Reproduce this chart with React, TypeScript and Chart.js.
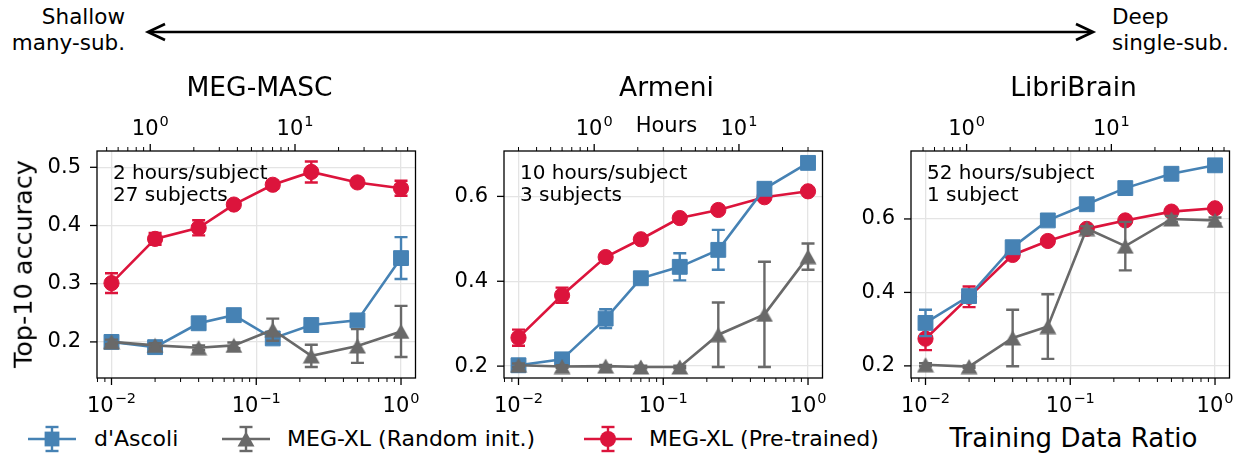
import React, { useEffect, useRef } from 'react';
import { Chart, registerables } from 'chart.js';

Chart.register(...registerables);

// ---------------- data ----------------
const RATIOS = [0.01, 0.02, 0.04, 0.07, 0.13, 0.24, 0.5, 1.0];

// MEG-MASC (2 hours/subject, 27 subjects)
const MASC_DASCOLI = [0.2, 0.191, 0.232, 0.246, 0.206, 0.229, 0.237, 0.344];
const MASC_DASCOLI_ERR = [0.006, 0.005, 0.006, 0.006, 0.008, 0.006, 0.007, 0.036];
const MASC_RANDOM = [0.2, 0.194, 0.19, 0.194, 0.221, 0.176, 0.193, 0.218];
const MASC_RANDOM_ERR = [0.004, 0.004, 0.004, 0.005, 0.019, 0.019, 0.029, 0.044];
const MASC_PRE = [0.301, 0.377, 0.396, 0.436, 0.47, 0.492, 0.474, 0.464];
const MASC_PRE_ERR = [0.017, 0.01, 0.013, 0.006, 0.007, 0.018, 0.006, 0.013];

// Armeni (10 hours/subject, 3 subjects)
const ARMENI_DASCOLI = [0.202, 0.216, 0.312, 0.407, 0.434, 0.474, 0.618, 0.679];
const ARMENI_DASCOLI_ERR = [0.005, 0.005, 0.022, 0.006, 0.032, 0.047, 0.008, 0.005];
const ARMENI_RANDOM = [0.202, 0.199, 0.2, 0.198, 0.198, 0.274, 0.322, 0.458];
const ARMENI_RANDOM_ERR = [0.004, 0.003, 0.003, 0.003, 0.003, 0.076, 0.124, 0.031];
const ARMENI_PRE = [0.267, 0.367, 0.457, 0.499, 0.549, 0.568, 0.598, 0.612];
const ARMENI_PRE_ERR = [0.019, 0.018, 0.006, 0.005, 0.005, 0.005, 0.005, 0.004];

// LibriBrain (52 hours/subject, 1 subject)
const LIBRI_DASCOLI = [0.317, 0.39, 0.523, 0.596, 0.64, 0.684, 0.723, 0.746];
const LIBRI_DASCOLI_ERR = [0.036, 0.01, 0.008, 0.006, 0.006, 0.006, 0.005, 0.005];
const LIBRI_RANDOM = [0.203, 0.198, 0.276, 0.307, 0.574, 0.526, 0.6, 0.596];
const LIBRI_RANDOM_ERR = [0.004, 0.003, 0.077, 0.088, 0.006, 0.066, 0.008, 0.008];
const LIBRI_PRE = [0.274, 0.388, 0.502, 0.54, 0.573, 0.596, 0.62, 0.629];
const LIBRI_PRE_ERR = [0.031, 0.028, 0.007, 0.006, 0.005, 0.005, 0.005, 0.005];

const TITLES = ['MEG-MASC', 'Armeni', 'LibriBrain'];
const NOTES = [
  ['2 hours/subject', '27 subjects'],
  ['10 hours/subject', '3 subjects'],
  ['52 hours/subject', '1 subject'],
];
const TOTAL_HOURS = [54, 30, 52];
const Y_MIN = [0.138, 0.172, 0.167];
const Y_MAX = [0.528, 0.707, 0.785];
const Y_TICKS = [
  [0.2, 0.3, 0.4, 0.5],
  [0.2, 0.4, 0.6],
  [0.2, 0.4, 0.6],
];
const X_MIN = 0.00794;
const X_MAX = 1.259;

const SERIES_LABELS = ["d'Ascoli", 'MEG-XL (Random init.)', 'MEG-XL (Pre-trained)'];

// ---------------- style ----------------
const BLUE = '#4682b4';
const GRAY = '#696969';
const RED = '#dc143c';
const FONT = '"DejaVu Sans", sans-serif';
const GRID = '#e4e4e4';

const PANEL_LEFT = [97, 504, 911];
const PLOT_W = 325;
const PLOT_TOP = 151;
const PLOT_BOTTOM = 378;
const AX_LEFT = 60;
const AX_TOP = 51;
const AX_BOTTOM = 42;
const CANVAS_TOP = PLOT_TOP - AX_TOP;
const CANVAS_W = AX_LEFT + PLOT_W + 5;
const CANVAS_H = AX_TOP + (PLOT_BOTTOM - PLOT_TOP) + AX_BOTTOM;
const CAP = 6.5;

function logTicks(min: number, max: number) {
  const out: { value: number; major: boolean }[] = [];
  for (let d = Math.floor(Math.log10(min)); d <= Math.ceil(Math.log10(max)); d++) {
    for (let k = 1; k <= 9; k++) {
      const v = k * Math.pow(10, d);
      if (v >= min && v <= max) out.push({ value: v, major: k === 1 });
    }
  }
  return out;
}

let triCanvas: HTMLCanvasElement | null = null;
function triangleMarker(color: string) {
  if (triCanvas) return triCanvas;
  const c = document.createElement('canvas');
  c.width = 18;
  c.height = 16;
  const g = c.getContext('2d')!;
  g.fillStyle = color;
  g.beginPath();
  g.moveTo(9, 0.5);
  g.lineTo(17.5, 15.5);
  g.lineTo(0.5, 15.5);
  g.closePath();
  g.fill();
  triCanvas = c;
  return c;
}

const errorBarPlugin = {
  id: 'errorBars',
  beforeDatasetDraw(chart: any, args: any) {
    const ds = chart.data.datasets[args.index];
    const errs: number[] | undefined = ds.errors;
    if (!errs) return;
    const xs = chart.scales.x;
    const ys = chart.scales.y;
    const ctx = chart.ctx;
    ctx.save();
    ctx.strokeStyle = ds.borderColor;
    ctx.lineWidth = 2.4;
    ds.data.forEach((pt: any, i: number) => {
      const px = xs.getPixelForValue(pt.x);
      const y1 = ys.getPixelForValue(pt.y - errs[i]);
      const y2 = ys.getPixelForValue(pt.y + errs[i]);
      ctx.beginPath();
      ctx.moveTo(px, y1);
      ctx.lineTo(px, y2);
      ctx.moveTo(px - CAP, y1);
      ctx.lineTo(px + CAP, y1);
      ctx.moveTo(px - CAP, y2);
      ctx.lineTo(px + CAP, y2);
      ctx.stroke();
    });
    ctx.restore();
  },
};

const framePlugin = {
  id: 'frame',
  afterDraw(chart: any) {
    const { ctx, chartArea: a } = chart;
    ctx.save();
    ctx.strokeStyle = '#000';
    const drawXTicks = (scale: any, dir: number, edge: number) => {
      scale.ticks.forEach((t: any) => {
        const px = scale.getPixelForValue(t.value);
        ctx.lineWidth = t.major ? 1.3 : 1;
        ctx.beginPath();
        ctx.moveTo(px, edge);
        ctx.lineTo(px, edge + dir * (t.major ? 7 : 4));
        ctx.stroke();
      });
    };
    drawXTicks(chart.scales.x, 1, a.bottom);
    drawXTicks(chart.scales.x2, -1, a.top);
    const yS = chart.scales.y;
    yS.ticks.forEach((t: any) => {
      const py = yS.getPixelForValue(t.value);
      ctx.lineWidth = 1.3;
      ctx.beginPath();
      ctx.moveTo(a.left, py);
      ctx.lineTo(a.left - 7, py);
      ctx.stroke();
    });
    ctx.lineWidth = 1.3;
    ctx.strokeRect(a.left, a.top, a.right - a.left, a.bottom - a.top);

    const drawPow = (scale: any, baseline: number) => {
      scale.ticks.forEach((t: any) => {
        if (!t.major) return;
        const e = Math.round(Math.log10(t.value));
        const expStr = e < 0 ? '\u2212' + -e : String(e);
        ctx.font = `21px ${FONT}`;
        const w1 = ctx.measureText('10').width;
        ctx.font = `14.5px ${FONT}`;
        const w2 = ctx.measureText(expStr).width;
        const px = scale.getPixelForValue(t.value);
        const x0 = px - (w1 + w2 + 1) / 2;
        ctx.fillStyle = '#000';
        ctx.textAlign = 'left';
        ctx.textBaseline = 'alphabetic';
        ctx.font = `21px ${FONT}`;
        ctx.fillText('10', x0, baseline);
        ctx.font = `14.5px ${FONT}`;
        ctx.fillText(expStr, x0 + w1 + 1, baseline - 8.5);
      });
    };
    drawPow(chart.scales.x, a.bottom + 33.5);
    drawPow(chart.scales.x2, a.top - 16.5);
    ctx.restore();
  },
};

const PANEL_SERIES = [
  [
    [MASC_DASCOLI, MASC_DASCOLI_ERR],
    [MASC_RANDOM, MASC_RANDOM_ERR],
    [MASC_PRE, MASC_PRE_ERR],
  ],
  [
    [ARMENI_DASCOLI, ARMENI_DASCOLI_ERR],
    [ARMENI_RANDOM, ARMENI_RANDOM_ERR],
    [ARMENI_PRE, ARMENI_PRE_ERR],
  ],
  [
    [LIBRI_DASCOLI, LIBRI_DASCOLI_ERR],
    [LIBRI_RANDOM, LIBRI_RANDOM_ERR],
    [LIBRI_PRE, LIBRI_PRE_ERR],
  ],
];

function Panel({ idx }: { idx: number }) {
  const ref = useRef<HTMLCanvasElement>(null);
  useEffect(() => {
    const series = PANEL_SERIES[idx];
    const colors = [BLUE, GRAY, RED];
    const orders = [2, 1, 3];
    const styles: any[] = ['rect', triangleMarker(GRAY), 'circle'];
    const radii = [10.5, 9, 7.6];
    const datasets = series.map(([vals, errs], s) => ({
      label: SERIES_LABELS[s],
      data: RATIOS.map((x, i) => ({ x, y: vals[i] })),
      errors: errs,
      borderColor: colors[s],
      backgroundColor: colors[s],
      pointBackgroundColor: colors[s],
      pointBorderColor: colors[s],
      pointBorderWidth: 1,
      pointStyle: styles[s],
      pointRadius: radii[s],
      pointHoverRadius: radii[s],
      borderWidth: 2.6,
      tension: 0,
      order: orders[s],
      xAxisID: 'x',
      yAxisID: 'y',
    }));
    const H = TOTAL_HOURS[idx];
    const chart = new Chart(ref.current as HTMLCanvasElement, {
      type: 'line',
      data: { datasets } as any,
      options: {
        responsive: false,
        animation: false,
        devicePixelRatio: 1,
        events: [],
        layout: { padding: 0 },
        plugins: { legend: { display: false }, tooltip: { enabled: false } },
        scales: {
          x: {
            type: 'logarithmic',
            position: 'bottom',
            min: X_MIN,
            max: X_MAX,
            afterBuildTicks: (s: any) => {
              s.ticks = logTicks(X_MIN, X_MAX);
            },
            afterFit: (s: any) => {
              s.height = AX_BOTTOM;
            },
            ticks: { display: false },
            grid: {
              drawTicks: false,
              lineWidth: 1.3,
              color: (c: any) => (c.tick && c.tick.major ? GRID : 'rgba(0,0,0,0)'),
            },
            border: { display: false },
          },
          x2: {
            type: 'logarithmic',
            axis: 'x',
            position: 'top',
            min: X_MIN * H,
            max: X_MAX * H,
            afterBuildTicks: (s: any) => {
              s.ticks = logTicks(X_MIN * H, X_MAX * H);
            },
            afterFit: (s: any) => {
              s.height = AX_TOP;
            },
            ticks: { display: false },
            grid: { drawOnChartArea: false, drawTicks: false },
            border: { display: false },
          },
          y: {
            type: 'linear',
            position: 'left',
            min: Y_MIN[idx],
            max: Y_MAX[idx],
            afterBuildTicks: (s: any) => {
              s.ticks = Y_TICKS[idx].map((v) => ({ value: v, major: true }));
            },
            afterFit: (s: any) => {
              s.width = AX_LEFT;
            },
            ticks: {
              autoSkip: false,
              padding: 16,
              color: '#000',
              font: { family: FONT, size: 21 },
              callback: (v: any) => Number(v).toFixed(1),
            },
            grid: { drawTicks: false, lineWidth: 1.3, color: GRID },
            border: { display: false },
          },
        },
      } as any,
      plugins: [errorBarPlugin, framePlugin],
    });
    return () => chart.destroy();
  }, [idx]);
  return (
    <canvas
      ref={ref}
      width={CANVAS_W}
      height={CANVAS_H}
      style={{
        position: 'absolute',
        left: PANEL_LEFT[idx] - AX_LEFT,
        top: CANVAS_TOP,
        width: CANVAS_W,
        height: CANVAS_H,
      }}
    />
  );
}

function Txt({
  x,
  y,
  size,
  children,
  rotate,
}: {
  x: number;
  y: number;
  size: number;
  children: React.ReactNode;
  rotate?: boolean;
}) {
  return (
    <div
      style={{
        position: 'absolute',
        left: x,
        top: y,
        transform: `translate(-50%,-50%)${rotate ? ' rotate(-90deg)' : ''}`,
        fontFamily: FONT,
        fontSize: size,
        lineHeight: 1.2,
        whiteSpace: 'nowrap',
        color: '#000',
      }}
    >
      {children}
    </div>
  );
}

function Marker({ kind, color }: { kind: number; color: string }) {
  return (
    <svg width={60} height={30} style={{ position: 'absolute', left: -30, top: -15 }}>
      <line x1={6} y1={15} x2={54} y2={15} stroke={color} strokeWidth={2.6} />
      <line x1={30} y1={3} x2={30} y2={27} stroke={color} strokeWidth={2.4} />
      <line x1={23.5} y1={3} x2={36.5} y2={3} stroke={color} strokeWidth={2.4} />
      <line x1={23.5} y1={27} x2={36.5} y2={27} stroke={color} strokeWidth={2.4} />
      {kind === 0 && <rect x={22.6} y={7.6} width={14.8} height={14.8} fill={color} />}
      {kind === 1 && <polygon points="30,7.5 38.5,22.5 21.5,22.5" fill={color} />}
      {kind === 2 && <circle cx={30} cy={15} r={8} fill={color} />}
    </svg>
  );
}

const LEGEND_X = [52, 246, 608];
const LEGEND_TEXT_X = [94, 287, 649];

export default function App() {
  return (
    <div
      style={{
        position: 'absolute',
        left: 0,
        top: 0,
        width: 1242,
        height: 453,
        background: '#fff',
        overflow: 'hidden',
      }}
    >
      <svg width={1242} height={60} style={{ position: 'absolute', left: 0, top: 0 }}>
        <line x1={149} y1={32} x2={1092} y2={32} stroke="#000" strokeWidth={2.7} />
        <polyline points="165,24 148,32 165,40" fill="none" stroke="#000" strokeWidth={2.7} />
        <polyline points="1076,24 1093,32 1076,40" fill="none" stroke="#000" strokeWidth={2.7} />
      </svg>
      <div
        style={{
          position: 'absolute',
          left: -5,
          top: 4,
          width: 130,
          textAlign: 'right',
          fontFamily: FONT,
          fontSize: 21.5,
          lineHeight: '26px',
          whiteSpace: 'nowrap',
        }}
      >
        Shallow
        <br />
        many-sub.
      </div>
      <div
        style={{
          position: 'absolute',
          left: 1112,
          top: 4,
          textAlign: 'left',
          fontFamily: FONT,
          fontSize: 21.5,
          lineHeight: '26px',
          whiteSpace: 'nowrap',
        }}
      >
        Deep
        <br />
        single-sub.
      </div>

      {[0, 1, 2].map((i) => (
        <Panel key={i} idx={i} />
      ))}

      {TITLES.map((t, i) => (
        <Txt key={t} x={PANEL_LEFT[i] + PLOT_W / 2} y={87} size={26.5}>
          {t}
        </Txt>
      ))}
      <Txt x={PANEL_LEFT[1] + PLOT_W / 2} y={126} size={21}>
        Hours
      </Txt>
      {NOTES.map((lines, i) => (
        <div
          key={i}
          style={{
            position: 'absolute',
            left: PANEL_LEFT[i] + 16,
            top: 161,
            fontFamily: FONT,
            fontSize: 20,
            lineHeight: '22px',
            whiteSpace: 'nowrap',
          }}
        >
          {lines[0]}
          <br />
          {lines[1]}
        </div>
      ))}
      <Txt x={23} y={264} size={25.5} rotate>
        Top-10 accuracy
      </Txt>
      <Txt x={PANEL_LEFT[2] + PLOT_W / 2} y={439} size={26}>
        Training Data Ratio
      </Txt>

      {SERIES_LABELS.map((lab, i) => (
        <React.Fragment key={lab}>
          <div style={{ position: 'absolute', left: LEGEND_X[i], top: 439 }}>
            <Marker kind={i} color={[BLUE, GRAY, RED][i]} />
          </div>
          <div
            style={{
              position: 'absolute',
              left: LEGEND_TEXT_X[i],
              top: 439,
              transform: 'translateY(-50%)',
              fontFamily: FONT,
              fontSize: 22,
              lineHeight: 1.2,
              whiteSpace: 'nowrap',
            }}
          >
            {lab}
          </div>
        </React.Fragment>
      ))}
    </div>
  );
}
